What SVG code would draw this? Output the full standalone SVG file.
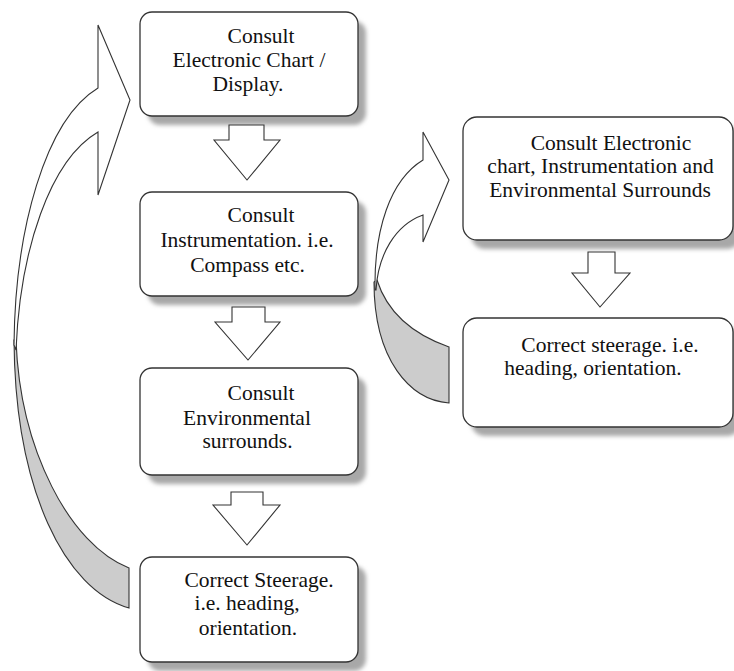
<svg xmlns="http://www.w3.org/2000/svg" width="734" height="671" viewBox="0 0 734 671">
<defs>
<filter id="blur" x="-10%" y="-10%" width="120%" height="120%"><feGaussianBlur stdDeviation="2"/></filter>
</defs>
<style>
.shadow{fill:#a8a8a8;filter:url(#blur)}
.box{fill:#ffffff;stroke:#333333;stroke-width:1.3}
.blk{fill:#ffffff;stroke:#333333;stroke-width:1.1;stroke-linejoin:miter}
.back{fill:#cccccc;stroke:#333333;stroke-width:1.1}
.front{fill:#ffffff;stroke:#333333;stroke-width:1.1}
.t{font-size:21.5px;fill:#111111;text-anchor:middle}
</style>
<rect width="734" height="671" fill="#ffffff"/>

<g id="connectors">
  <path class="back" d="M14,340 C 15,490 65,590 129,608 L129,568 C 70,545 20,450 16,340 Z"/>
  <path class="front" d="M14,345 C 15,230 45,120 98,88 L98,25 L130,100 L98,195 L98,132 C 50,160 20,250 16,350 Z"/>
  <path class="back" d="M374,282 C 374,360 410,400 449,403 L449,347 C 415,335 388,315 377,280 Z"/>
  <path class="front" d="M375,290 C 374,230 390,180 423,160 L423,132 L449,180 L423,242 L423,215 C 395,225 378,255 376,290 Z"/>
</g>

<g font-family="Liberation Serif, DejaVu Serif, serif">
<g id="node1">
  <rect class="shadow" x="148" y="21" width="218" height="104" rx="12"/>
  <rect class="box" x="140" y="12" width="218" height="104" rx="12"/>
  <text class="t" x="261" y="43">Consult</text>
  <text class="t" x="249" y="67">Electronic Chart /</text>
  <text class="t" x="248" y="91">Display.</text>
</g>
<g id="node2">
  <rect class="shadow" x="148" y="201" width="218" height="104" rx="12"/>
  <rect class="box" x="140" y="192" width="218" height="104" rx="12"/>
  <text class="t" x="261" y="222">Consult</text>
  <text class="t" x="247" y="247">Instrumentation. i.e.</text>
  <text class="t" x="247.5" y="272">Compass etc.</text>
</g>
<g id="node3">
  <rect class="shadow" x="148" y="377" width="218" height="107" rx="12"/>
  <rect class="box" x="140" y="368" width="218" height="107" rx="12"/>
  <text class="t" x="261" y="400">Consult</text>
  <text class="t" x="247" y="425">Environmental</text>
  <text class="t" x="247.5" y="448">surrounds.</text>
</g>
<g id="node4">
  <rect class="shadow" x="148" y="566" width="218" height="105" rx="12"/>
  <rect class="box" x="140" y="557" width="218" height="105" rx="12"/>
  <text class="t" x="259" y="587">Correct Steerage.</text>
  <text class="t" x="247" y="610">i.e. heading,</text>
  <text class="t" x="248" y="635">orientation.</text>
</g>
<g id="node5">
  <rect class="shadow" x="471" y="126" width="270" height="123" rx="14"/>
  <rect class="box" x="463" y="117" width="270" height="123" rx="14"/>
  <text class="t" x="611" y="150">Consult Electronic</text>
  <text class="t" x="600.5" y="173">chart, Instrumentation and</text>
  <text class="t" x="600" y="197">Environmental Surrounds</text>
</g>
<g id="node6">
  <rect class="shadow" x="471" y="327" width="270" height="109" rx="14"/>
  <rect class="box" x="463" y="318" width="270" height="109" rx="14"/>
  <text class="t" x="610" y="352">Correct steerage. i.e.</text>
  <text class="t" x="593" y="375">heading, orientation.</text>
</g>
</g>

<g id="down-arrows">
  <polygon class="blk" points="229,125 264,125 264,140 280,140 247,180 214,140 229,140"/>
  <polygon class="blk" points="232,307 265,307 265,322 280,322 248,360 215,322 232,322"/>
  <polygon class="blk" points="231,492 263,492 263,505 280,505 247,545 213,505 231,505"/>
  <polygon class="blk" points="588,252 615,252 615,273 630,273 600,307 572,273 588,273"/>
</g>
</svg>
